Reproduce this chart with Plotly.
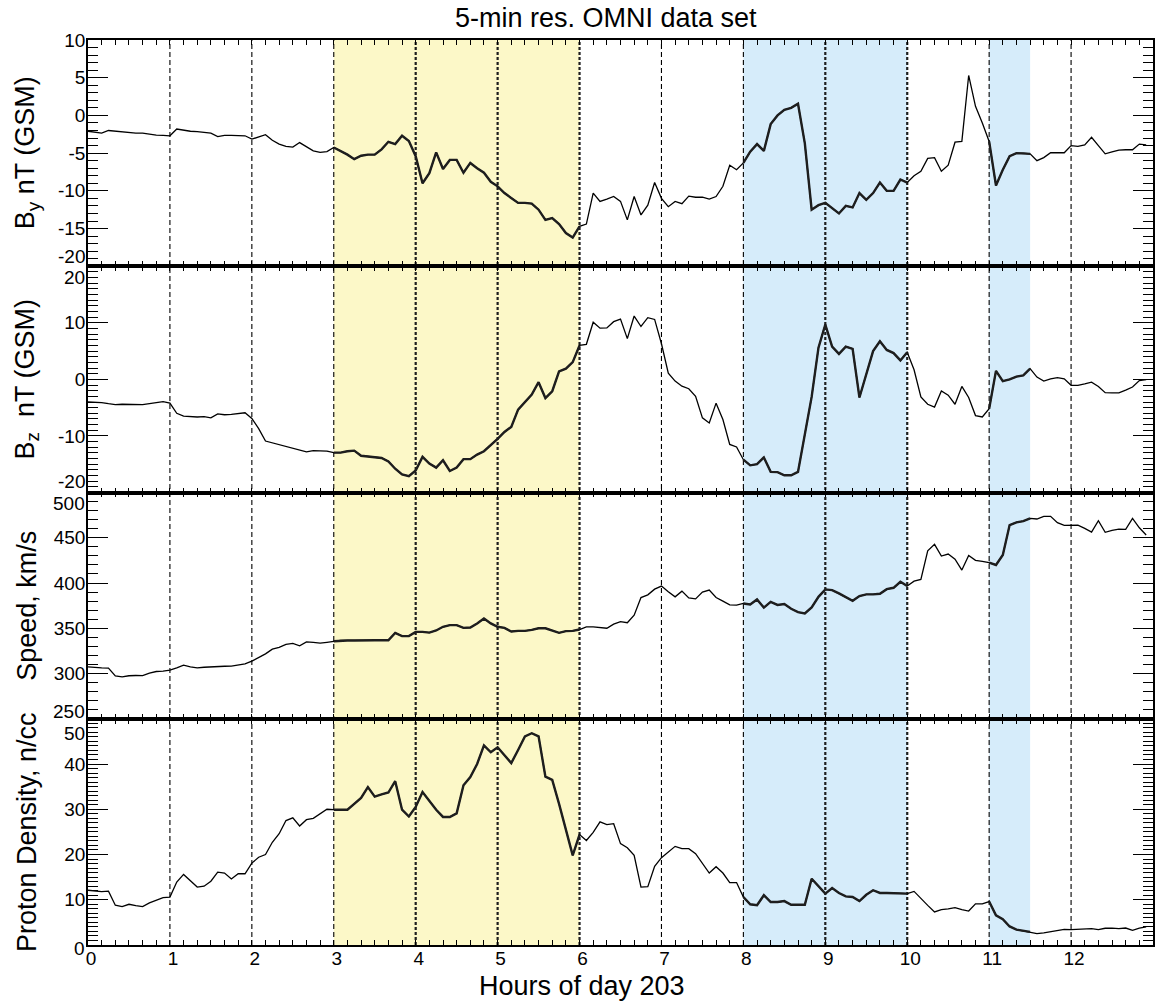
import numpy as np
import plotly.graph_objects as go
from plotly.subplots import make_subplots

# 5-minute OMNI samples, hours of day 203
hours = [i / 12 for i in range(156)]

by_gsm = [
    -2.1, -2.2, -2.35, -2.0, -2.1, -2.2, -2.25, -2.35, -2.35, -2.5, -2.6, -2.65,
    -2.7, -1.8, -2.0, -2.1, -2.15, -2.25, -2.35, -2.8, -2.65, -2.65, -2.65, -2.7,
    -3.15, -2.9, -2.55, -3.3, -3.8, -4.1, -4.2, -3.6, -4.1, -4.7, -4.9, -4.8,
    -4.25, -4.7, -5.2, -5.8, -5.35, -5.2, -5.2, -4.5, -3.5, -3.8, -2.7, -3.4,
    -5.4, -9.0, -7.65, -4.9, -7.1, -5.9, -5.9, -7.6, -6.3, -7.0, -7.6, -8.8,
    -9.4, -10.3, -11.0, -11.6, -11.6, -11.7, -12.5, -13.85, -13.6, -14.4, -15.6, -16.2,
    -14.7, -14.4, -10.3, -11.4, -11.1, -10.75, -11.4, -13.85, -10.75, -13.2, -11.9, -8.9,
    -11.0, -12.1, -11.4, -11.7, -10.7, -10.85, -10.85, -11.1, -10.75, -9.4, -6.6, -7.2,
    -6.3, -4.8, -3.8, -4.7, -1.15, 0.0, 0.75, 1.0, 1.55, -3.7, -12.5, -11.9,
    -11.6, -12.3, -13.0, -12.0, -12.2, -10.3, -11.2, -10.3, -8.9, -10.0, -10.0, -8.5,
    -8.9, -8.0, -7.4, -5.7, -5.6, -7.4, -6.6, -3.55, -3.45, 5.3, 1.2, -1.0,
    -3.45, -9.3, -7.2, -5.4, -5.0, -5.0, -5.1, -6.0, -5.6, -4.95, -4.95, -4.95,
    -4.0, -4.1, -3.9, -2.9, -4.0, -5.1, -4.85, -4.6, -4.55, -4.55, -3.8, -3.9,
]

bz_gsm = [
    -4.0, -4.0, -4.1, -4.3, -4.45, -4.4, -4.4, -4.4, -4.45, -4.3, -4.1, -3.95,
    -4.2, -6.0, -6.5, -6.6, -6.65, -6.6, -6.8, -6.1, -6.25, -6.2, -6.1, -5.9,
    -6.9, -8.7, -10.9, -11.2, -11.5, -11.9, -12.2, -12.5, -12.8, -12.6, -12.6, -12.7,
    -12.95, -12.95, -12.7, -12.6, -13.5, -13.6, -13.7, -13.9, -14.5, -15.8, -16.8, -17.1,
    -16.1, -13.7, -14.9, -15.6, -14.3, -16.2, -15.6, -14.1, -14.1, -13.3, -12.7, -11.65,
    -10.5, -9.3, -8.4, -5.35, -4.1, -2.7, -0.5, -3.3, -2.1, 1.4, 1.9, 3.05,
    6.0, 6.2, 10.1, 9.05, 9.1, 10.2, 10.65, 7.2, 11.2, 9.35, 10.9, 10.6,
    6.3, 1.1, -0.3, -1.2, -1.65, -3.0, -6.8, -7.7, -4.2, -7.1, -11.5, -11.95,
    -14.2, -15.2, -15.0, -13.8, -16.35, -16.4, -16.95, -16.95, -16.35, -9.9, -3.1, 5.6,
    9.7, 5.8, 4.5, 5.8, 5.4, -3.2, 0.9, 5.0, 6.75, 5.2, 4.65, 3.35,
    4.8, 1.7, -3.1, -4.4, -4.9, -2.05, -2.8, -4.4, -1.25, -3.2, -6.4, -6.65,
    -5.2, 1.5, -0.3, 0.0, 0.5, 0.7, 1.9, 0.4, -0.3, 0.1, 0.3, 0.1,
    -1.05, -1.05, -0.8, -0.5, -1.25, -2.35, -2.4, -2.4, -1.9, -1.35, -0.2, -0.05,
]

speed = [
    307.3, 306.5, 306.2, 306.0, 297.4, 296.2, 297.5, 297.8, 297.7, 300.5, 302.2, 302.6,
    303.7, 306.2, 309.2, 307.3, 306.2, 306.9, 307.5, 307.8, 308.0, 308.2, 309.0, 310.6,
    313.6, 317.3, 321.7, 326.9, 328.8, 332.1, 333.2, 330.6, 335.0, 334.3, 333.5, 334.5,
    335.7, 336.5, 336.5, 336.5, 336.8, 337.2, 336.8, 336.8, 336.8, 344.9, 341.3, 341.3,
    346.0, 346.0, 345.2, 347.5, 351.6, 353.4, 353.4, 350.4, 350.8, 355.3, 360.8, 355.3,
    351.6, 350.4, 346.4, 347.1, 347.1, 348.2, 350.0, 350.0, 347.5, 344.9, 346.8, 347.1,
    348.6, 351.6, 351.6, 350.8, 350.0, 354.5, 357.2, 356.1, 364.4, 383.9, 386.9, 393.2,
    396.6, 390.4, 384.7, 391.0, 383.6, 382.5, 389.9, 392.2, 384.0, 380.0, 375.9, 375.5,
    377.4, 376.3, 381.8, 372.8, 379.1, 375.8, 376.7, 371.5, 367.8, 366.3, 373.0, 384.7,
    392.9, 392.2, 388.5, 384.7, 380.4, 385.5, 387.4, 387.4, 388.1, 393.2, 394.7, 401.4,
    396.6, 402.1, 404.0, 435.6, 442.7, 429.8, 432.0, 426.4, 414.3, 430.5, 425.0, 423.9,
    422.4, 419.9, 430.9, 464.0, 467.0, 468.4, 471.4, 470.7, 473.6, 473.6, 466.6, 463.7,
    464.0, 464.0, 460.4, 456.3, 468.8, 456.0, 458.2, 459.6, 459.3, 471.4, 461.0, 453.0,
]

density = [
    12.1, 11.9, 11.8, 11.9, 8.8, 8.5, 9.0, 8.7, 8.5, 9.3, 9.9, 10.45,
    10.6, 13.9, 15.6, 14.1, 12.8, 13.0, 14.1, 16.1, 15.9, 14.6, 15.75, 15.75,
    18.1, 19.4, 20.0, 22.7, 24.6, 27.5, 28.1, 26.3, 27.7, 28.0, 29.0, 30.0,
    29.9, 29.9, 29.9, 31.2, 32.5, 34.9, 32.8, 33.3, 33.7, 36.2, 29.9, 28.4,
    30.5, 33.8, 31.8, 29.9, 28.3, 28.3, 29.1, 35.3, 37.1, 40.0, 44.1, 42.6,
    43.7, 41.9, 40.2, 43.1, 46.1, 46.8, 46.1, 37.2, 36.5, 31.2, 25.7, 19.8,
    24.4, 23.1, 24.9, 27.2, 26.6, 26.8, 22.4, 21.5, 19.8, 12.8, 12.9, 17.4,
    19.3, 20.5, 21.8, 21.3, 21.3, 20.2, 18.1, 15.9, 17.3, 15.9, 13.8, 13.8,
    10.6, 9.0, 8.8, 11.0, 9.5, 9.5, 9.7, 8.9, 8.9, 8.9, 14.65, 13.0,
    11.35, 12.6, 11.5, 10.75, 10.6, 9.7, 11.1, 12.1, 11.5, 11.5, 11.5, 11.5,
    11.35, 11.85, 10.2, 8.75, 7.3, 7.8, 8.0, 8.25, 7.8, 7.5, 9.1, 9.1,
    9.6, 6.55, 5.7, 4.1, 3.4, 3.1, 2.9, 2.5, 2.7, 2.9, 3.1, 3.45,
    3.4, 3.45, 3.45, 3.6, 3.4, 3.7, 3.75, 3.6, 3.75, 3.25, 3.75, 4.0,
]

# y tick values and their printed labels, per panel
by_ticks = [-20, -15, -10, -5, 0, 5, 10]
by_labels = ["-20", "-15", "-10", "-5", "0", "5", "10"]
bz_ticks = [-20, -10, 0, 10, 20]
bz_labels = ["-20", "-10", "0", "10", "20"]
speed_ticks = [250, 300, 350, 400, 450, 500]
speed_labels = ["250", "300", "350", "400", "450", "500"]
dens_ticks = [0, 10, 20, 30, 40, 50]
dens_labels = ["0", "10", "20", "30", "40", "50"]
hour_ticks = list(range(13))
hour_labels = [str(h) for h in hour_ticks]

# highlighted intervals (hours)
yellow_spans = [(3.0, 6.0)]
blue_spans = [(8.0, 10.0), (11.0, 11.5)]
hour_lines = list(range(1, 13))
bold_hours = [4, 5, 6, 9, 10]

# (values, title, range, ticks, labels, minor step, end-label pixel shifts (bottom, top))
panels = [
    (by_gsm, "B<sub>y</sub> nT (GSM)", [-20, 10], by_ticks, by_labels, 1, (10, 0)),
    (bz_gsm, "B<sub>z</sub>  nT (GSM)", [-20, 20], bz_ticks, bz_labels, 1, (11, -11)),
    (speed, "Speed, km/s", [250, 500], speed_ticks, speed_labels, 10, (7, -11)),
    (density, "Proton Density, n/cc", [0, 50], dens_ticks, dens_labels, 1, (-3, -15)),
]

FONT = "Liberation Sans, Arial, Helvetica, sans-serif"
W, H = 1155, 1002
ML, MR, MT, MB = 88, 0, 40, 57

fig = make_subplots(rows=4, cols=1, shared_xaxes=True, vertical_spacing=0)

x_arr = np.array(hours)
all_spans = yellow_spans + blue_spans

for r, p in enumerate(panels, start=1):
    vals = p[0]
    v = np.array(vals, dtype=float)
    fig.add_trace(go.Scatter(x=hours, y=vals, mode="lines",
                             line=dict(color="black", width=1.3),
                             showlegend=False, hoverinfo="skip"), row=r, col=1)
    for a, b in all_spans:
        m = (x_arr >= a - 1e-9) & (x_arr <= b + 1e-9)
        fig.add_trace(go.Scatter(x=x_arr[m].tolist(), y=v[m].tolist(), mode="lines",
                                 line=dict(color="#1e1e1e", width=2.4),
                                 showlegend=False, hoverinfo="skip"), row=r, col=1)

annotations = []
ph = 1.0 / 4
for r, (vals, title, yr, tv, tt, mdt, shifts) in enumerate(panels, start=1):
    top = 1 - (r - 1) * ph
    bot = 1 - r * ph
    yk = "yaxis" if r == 1 else f"yaxis{r}"
    xk = "xaxis" if r == 1 else f"xaxis{r}"
    yref = "y" if r == 1 else f"y{r}"
    # end labels sit on the panel borders; they are nudged inward and drawn
    # as separate texts so labels of neighbouring panels don't collide
    keep_v, keep_t = list(tv), list(tt)
    ends = [(0, shifts[0]), (len(tt) - 1, shifts[1])]
    drop = set()
    for idx, sh in ends:
        if sh != 0:
            drop.add(idx)
            annotations.append(dict(text=tt[idx], xref="paper", yref=yref,
                                    x=0, y=tv[idx], xanchor="right", yanchor="middle",
                                    xshift=-1, yshift=sh, showarrow=False,
                                    font=dict(family=FONT, size=19, color="black")))
    keep_v = [t for i, t in enumerate(tv) if i not in drop]
    keep_t = [t for i, t in enumerate(tt) if i not in drop]
    fig.layout[yk].update(
        domain=[bot, top], range=yr, tickmode="array", tickvals=keep_v, ticktext=keep_t,
        ticks="inside", ticklen=20, tickwidth=1.3, tickcolor="black",
        showline=True, linecolor="black", linewidth=1.6, mirror="ticks",
        showgrid=False, zeroline=False, ticklabelstandoff=-3,
        tickfont=dict(family=FONT, size=19, color="black"),
        minor=dict(dtick=mdt, tick0=yr[0], ticks="inside", ticklen=10, tickwidth=1.2,
                   tickcolor="black", showgrid=False),
    )
    fig.layout[xk].update(
        range=[0, 13], tickmode="array", tickvals=hour_ticks, ticktext=hour_labels,
        ticks="inside", ticklen=5, tickwidth=1.2, tickcolor="black",
        showline=True, linecolor="black", linewidth=1.6, mirror="ticks",
        showgrid=False, zeroline=False, showticklabels=(r == 4),
        ticklabelstandoff=-5, ticklabelshift=3,
        tickfont=dict(family=FONT, size=19, color="black"),
        minor=dict(dtick=1 / 6, tick0=0, ticks="inside", ticklen=5, tickwidth=1.2,
                   tickcolor="black", showgrid=False),
    )

shapes = []
for a, b in yellow_spans:
    shapes.append(dict(type="rect", xref="x", yref="paper", x0=a, x1=b, y0=0, y1=1,
                       fillcolor="#FCF8C8", line=dict(width=0), layer="below"))
for a, b in blue_spans:
    shapes.append(dict(type="rect", xref="x", yref="paper", x0=a, x1=b, y0=0, y1=1,
                       fillcolor="#D6ECFA", line=dict(width=0), layer="below"))
for h in hour_lines:
    if h in bold_hours:
        ln = dict(color="#1e1e1e", width=2.2, dash="3px,2px")
    else:
        ln = dict(color="black", width=1.1, dash="5px,3px")
    shapes.append(dict(type="line", xref="x", yref="paper", x0=h, x1=h, y0=0, y1=1,
                       line=ln, layer="below"))

plot_w = W - ML - MR
plot_h = H - MT - MB
for r, p in enumerate(panels, start=1):
    yc = 1 - (r - 0.5) * ph
    annotations.append(dict(text=p[1], xref="paper", yref="paper",
                            x=(27 - ML) / plot_w, y=yc, textangle=-90,
                            xanchor="center", yanchor="middle", showarrow=False,
                            font=dict(family=FONT, size=27, color="black")))
annotations.append(dict(text="Hours of day 203", xref="paper", yref="paper",
                        x=(583 - ML) / plot_w, y=-(986 - (H - MB)) / plot_h,
                        xanchor="center", yanchor="middle", showarrow=False,
                        font=dict(family=FONT, size=27, color="black")))
annotations.append(dict(text="5-min res. OMNI data set", xref="paper", yref="paper",
                        x=(607 - ML) / plot_w, y=1 + (MT - 18) / plot_h,
                        xanchor="center", yanchor="middle", showarrow=False,
                        font=dict(family=FONT, size=27, color="black")))

fig.update_layout(
    width=W, height=H, autosize=False,
    margin=dict(l=ML, r=MR, t=MT, b=MB),
    paper_bgcolor="white", plot_bgcolor="rgba(0,0,0,0)",
    shapes=shapes, annotations=annotations, showlegend=False,
)

fig.write_html("out.html")
